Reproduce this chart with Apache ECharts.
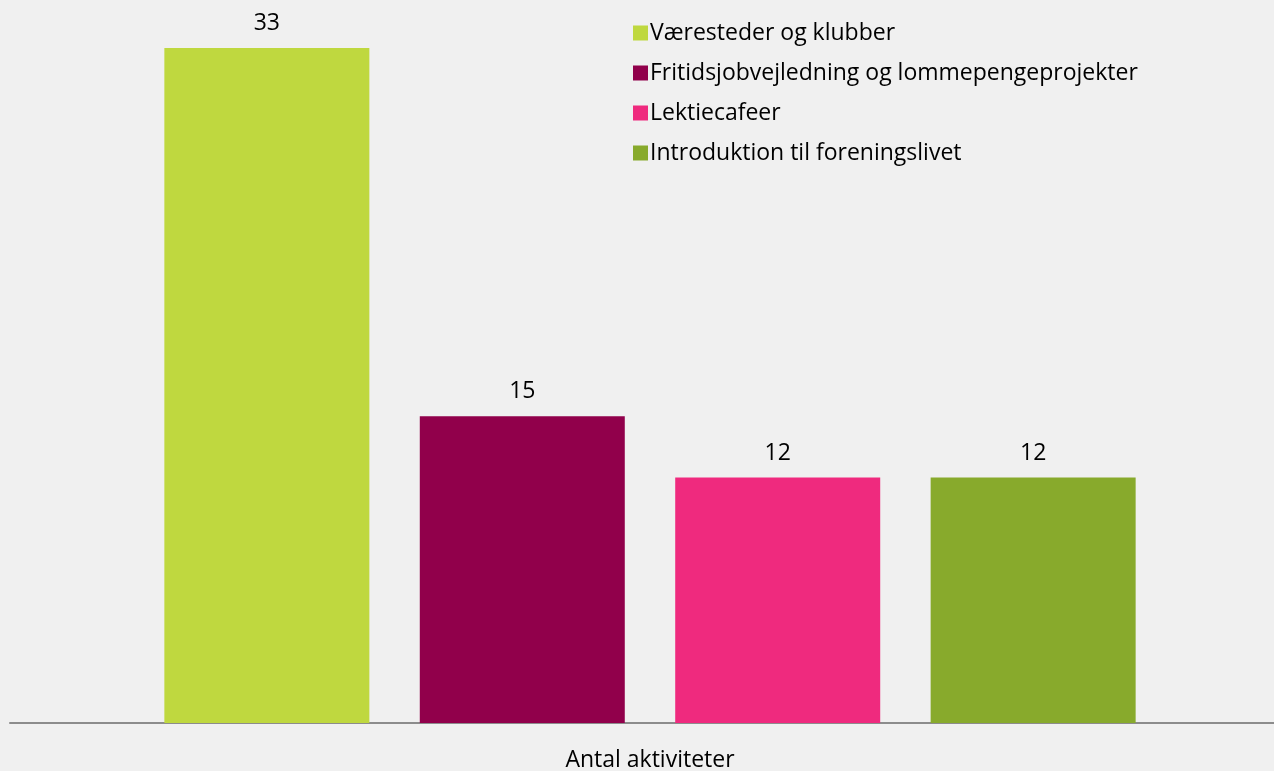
<!DOCTYPE html>
<html>
<head>
<meta charset="utf-8">
<style>
html, body { margin: 0; padding: 0; background: #f0f0f0; }
#container { width: 1274px; height: 771px; }
</style>
<title>Antal aktiviteter</title>
</head>
<body>
<div id="container"></div>
<script src="https://cdn.jsdelivr.net/npm/echarts@6/dist/echarts.min.js"></script>
<script type="text/javascript">
var categories = ['Antal aktiviteter'];
var seriesNames = ['Væresteder og klubber', 'Fritidsjobvejledning og lommepengeprojekter', 'Lektiecafeer', 'Introduktion til foreningslivet'];
var seriesValues = [[33], [15], [12], [12]];
var seriesColors = ['#bfd83f', '#91004b', '#ef2a7e', '#88aa2c'];

var myChart = echarts.init(document.getElementById('container'));

var series = [];
for (var i = 0; i < seriesNames.length; i++) {
  series.push({
    name: seriesNames[i],
    type: 'bar',
    data: seriesValues[i],
    barWidth: 205,
    barGap: '24.6%',
    itemStyle: { color: seriesColors[i] },
    label: {
      show: true,
      position: 'top',
      distance: 13,
      color: '#000',
      fontSize: 23,
      fontFamily: 'Open Sans'
    }
  });
}

var option = {
  backgroundColor: '#f0f0f0',
  textStyle: { fontFamily: 'Open Sans' },
  animation: false,
  legend: {
    orient: 'vertical',
    left: 628,
    top: 14,
    itemWidth: 15,
    itemHeight: 15,
    itemGap: 12,
    icon: 'rect',
    textStyle: { fontSize: 23, lineHeight: 28, color: '#000', fontFamily: 'Open Sans', padding: [0, 0, 0, -3] },
    data: seriesNames
  },
  grid: { left: 10, right: -16, top: 48, bottom: 48, outerBoundsMode: 'none', containLabel: false },
  xAxis: {
    type: 'category',
    data: categories,
    axisLine: { lineStyle: { color: '#8c8c8c', width: 2 } },
    axisTick: { show: false },
    axisLabel: { color: '#000', fontSize: 23, fontFamily: 'Open Sans', margin: 26 }
  },
  yAxis: {
    type: 'value',
    min: 0,
    max: 33,
    show: false,
    splitLine: { show: false }
  },
  series: series
};

myChart.setOption(option, true);
</script>
</body>
</html>
